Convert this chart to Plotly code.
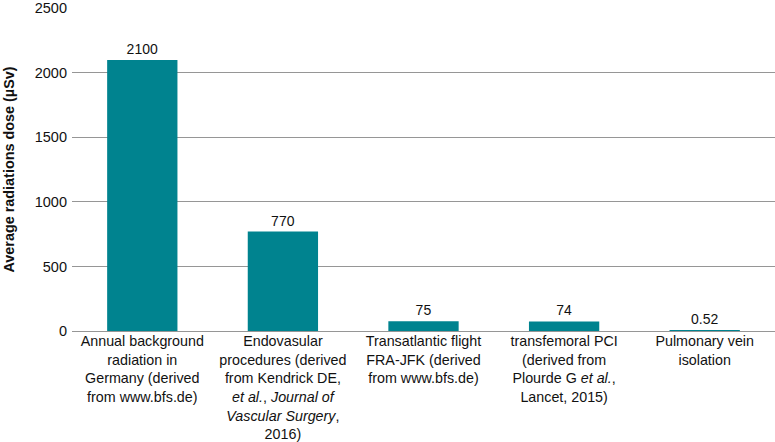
import plotly.graph_objects as go

categories = [
    "Annual background<br>radiation in<br>Germany (derived<br>from www.bfs.de)",
    "Endovasular<br>procedures (derived<br>from Kendrick DE,<br><i>et al.</i>, <i>Journal of</i><br><i>Vascular Surgery</i>,<br>2016)",
    "Transatlantic flight<br>FRA-JFK (derived<br>from www.bfs.de)",
    "transfemoral PCI<br>(derived from<br>Plourde G <i>et al.</i>,<br>Lancet, 2015)",
    "Pulmonary vein<br>isolation",
]
values = [2100, 770, 75, 74, 0.52]
value_labels = ["2100", "770", "75", "74", "0.52"]
y_ticks = [0, 500, 1000, 1500, 2000, 2500]

fig = go.Figure(go.Bar(
    x=categories,
    y=values,
    text=value_labels,
    textposition="outside",
    textfont=dict(size=14, color="#111"),
    marker=dict(color="#00838F", line=dict(width=0)),
    width=0.5,
    cliponaxis=False,
))

fig.update_layout(
    width=775, height=442,
    margin=dict(l=72, r=0, t=8, b=111),
    plot_bgcolor="white", paper_bgcolor="white",
    font=dict(family="Liberation Sans, Arial, sans-serif", size=14, color="#111"),
    showlegend=False,
    bargap=0.5,
)
fig.update_yaxes(
    range=[0, 2502], tickvals=y_ticks, ticktext=[str(v) for v in y_ticks],
    showgrid=True, gridcolor="rgb(150,150,150)", gridwidth=1,
    zeroline=True, zerolinecolor="rgb(150,150,150)", zerolinewidth=1,
    showline=False, ticks="", tickfont=dict(size=14.5), ticklabelstandoff=4,
    automargin=False,
    title=dict(text="<b>Average radiations dose (µSv)</b>", font=dict(size=14.4), standoff=16),
)
fig.update_xaxes(showline=False, showgrid=False, ticks="", tickfont=dict(size=14.3), tickangle=0, automargin=False)

fig.write_html("out.html", config={"displayModeBar": False},
               post_script="document.body.style.margin='0';")
